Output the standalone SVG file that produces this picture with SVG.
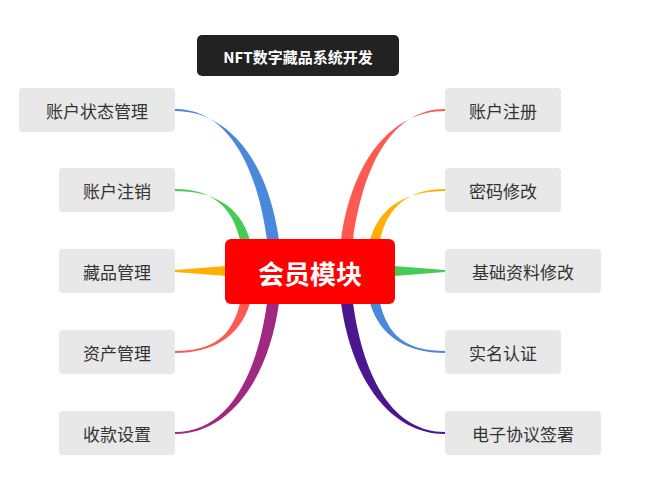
<svg xmlns="http://www.w3.org/2000/svg" width="651" height="481" viewBox="0 0 651 481">
<style>
.n rect{fill:#e8e8e8}
.n text{font-family:"Noto Sans CJK SC","Liberation Sans",sans-serif;font-size:17px;fill:#333;text-anchor:middle;dominant-baseline:central}
</style>
<rect width="651" height="481" fill="#fff"/>
<g id="connectors">
<path fill="#4a88db" d="M175,109 C225,109 256,160 267,240 L279,240 C268,160 228,111 175,111 Z"/>
<path fill="#44cc55" d="M175,189 C210,189 232,205 240,240 L250,240 C240,205 212,191 175,191 Z"/>
<path fill="#ffb000" d="M175,270 L226,266 L226,276 L175,272 Z"/>
<path fill="#ff5a52" d="M175,351 C212,351 232,337 240,303 L250,303 C240,337 212,353 175,353 Z"/>
<path fill="#a0287f" d="M175,432 C225,432 256,382 267,303 L279,303 C268,382 228,434 175,434 Z"/>
<path fill="#ff5a52" d="M445,109 C395,109 364,160 353,240 L341,240 C352,160 392,111 445,111 Z"/>
<path fill="#ffb000" d="M445,189 C410,189 388,205 380,240 L370,240 C380,205 408,191 445,191 Z"/>
<path fill="#44cc55" d="M445,270 L394,266 L394,276 L445,272 Z"/>
<path fill="#4a88db" d="M445,351 C408,351 388,337 380,303 L370,303 C380,337 408,353 445,353 Z"/>
<path fill="#4b1790" d="M445,432 C395,432 364,382 353,303 L341,303 C352,382 392,434 445,434 Z"/>
</g>
<g id="title"><rect x="197" y="35" width="202" height="41" rx="5" fill="#222"/>
<text x="298" y="56" font-family="Noto Sans CJK SC,Liberation Sans,sans-serif" font-size="15" font-weight="bold" fill="#fff" text-anchor="middle" dominant-baseline="central">NFT数字藏品系统开发</text></g>
<g id="center"><rect x="225" y="239" width="170" height="65" rx="6" fill="#ff0000"/>
<text x="310" y="272" font-family="Noto Sans CJK SC,Liberation Sans,sans-serif" font-size="26" font-weight="bold" fill="#fff" text-anchor="middle" dominant-baseline="central">会员模块</text></g>
<g id="n1" class="n"><rect x="19" y="88" width="156" height="44" rx="4"/><text x="97" y="110">账户状态管理</text></g>
<g id="n2" class="n"><rect x="59" y="168" width="116" height="44" rx="4"/><text x="117" y="190">账户注销</text></g>
<g id="n3" class="n"><rect x="59" y="249" width="116" height="44" rx="4"/><text x="117" y="271">藏品管理</text></g>
<g id="n4" class="n"><rect x="59" y="330" width="116" height="44" rx="4"/><text x="117" y="352">资产管理</text></g>
<g id="n5" class="n"><rect x="59" y="411" width="116" height="44" rx="4"/><text x="117" y="433">收款设置</text></g>
<g id="n6" class="n"><rect x="445" y="88" width="116" height="44" rx="4"/><text x="503" y="110">账户注册</text></g>
<g id="n7" class="n"><rect x="445" y="168" width="116" height="44" rx="4"/><text x="503" y="190">密码修改</text></g>
<g id="n8" class="n"><rect x="445" y="249" width="156" height="44" rx="4"/><text x="523" y="271">基础资料修改</text></g>
<g id="n9" class="n"><rect x="445" y="330" width="116" height="44" rx="4"/><text x="503" y="352">实名认证</text></g>
<g id="n10" class="n"><rect x="445" y="411" width="156" height="44" rx="4"/><text x="523" y="433">电子协议签署</text></g>
</svg>
